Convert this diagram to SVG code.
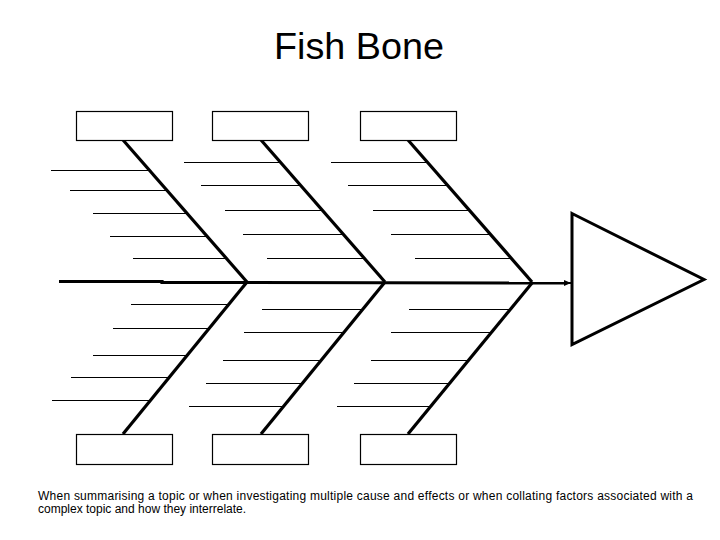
<svg xmlns="http://www.w3.org/2000/svg" width="720" height="540" viewBox="0 0 720 540">
<style>
.box{fill:#fff;stroke:#000;stroke-width:1.2}
.bone{stroke:#000;stroke-width:3.2;fill:none;stroke-linecap:butt}
.rib{stroke:#000;stroke-width:1;fill:none}
.title{font-family:"Liberation Sans",Arial,sans-serif;font-size:36px;fill:#000}
.cap{font-family:"Liberation Sans",Arial,sans-serif;font-size:12px;fill:#000}
</style>
<defs>
<marker id="ah" markerWidth="8" markerHeight="8" refX="7" refY="4" orient="auto" markerUnits="userSpaceOnUse">
<path d="M0,1 L7,4 L0,7 Z" fill="#000"/>
</marker>
</defs>
<rect width="720" height="540" fill="#fff"/>
<text class="title" x="359" y="59" text-anchor="middle" textLength="170" lengthAdjust="spacingAndGlyphs">Fish Bone</text>

<g id="connectors">
<polyline class="bone" points="59,281.5 162,281.5 162,282.5 248,282.5"/>
<line x1="248" y1="282.5" x2="564" y2="283" stroke="#000" stroke-width="3"/>
<line x1="530" y1="283" x2="571" y2="283" stroke="#000" stroke-width="2" marker-end="url(#ah)"/>
<line class="bone" x1="123" y1="140" x2="247" y2="282"/>
<line class="bone" x1="261" y1="140" x2="385" y2="282"/>
<line class="bone" x1="408" y1="140" x2="532" y2="282"/>
<line class="bone" x1="247" y1="282" x2="123" y2="434"/>
<line class="bone" x1="385" y1="282" x2="261" y2="434"/>
<line class="bone" x1="532" y1="283" x2="408" y2="434"/>
<g id="ribs">
<line class="rib" x1="51" y1="170.5" x2="149" y2="170.5"/>
<line class="rib" x1="70" y1="190.5" x2="166" y2="190.5"/>
<line class="rib" x1="93" y1="213.5" x2="186" y2="213.5"/>
<line class="rib" x1="110" y1="236.5" x2="206" y2="236.5"/>
<line class="rib" x1="133" y1="258.5" x2="226" y2="258.5"/>
<line class="rib" x1="184" y1="162.5" x2="280" y2="162.5"/>
<line class="rib" x1="201" y1="185.5" x2="300" y2="185.5"/>
<line class="rib" x1="225" y1="210.5" x2="322" y2="210.5"/>
<line class="rib" x1="243" y1="234.5" x2="343" y2="234.5"/>
<line class="rib" x1="267" y1="258.5" x2="364" y2="258.5"/>
<line class="rib" x1="331" y1="162.5" x2="427" y2="162.5"/>
<line class="rib" x1="348" y1="185.5" x2="447" y2="185.5"/>
<line class="rib" x1="373" y1="210.5" x2="469" y2="210.5"/>
<line class="rib" x1="391" y1="234.5" x2="490" y2="234.5"/>
<line class="rib" x1="415" y1="258.5" x2="511" y2="258.5"/>
<line class="rib" x1="131" y1="304.5" x2="229" y2="304.5"/>
<line class="rib" x1="113" y1="328.5" x2="209" y2="328.5"/>
<line class="rib" x1="93" y1="355.5" x2="187" y2="355.5"/>
<line class="rib" x1="71" y1="377.5" x2="170" y2="377.5"/>
<line class="rib" x1="52" y1="400.5" x2="151" y2="400.5"/>
<line class="rib" x1="262" y1="309.5" x2="363" y2="309.5"/>
<line class="rib" x1="244" y1="332.5" x2="344" y2="332.5"/>
<line class="rib" x1="223" y1="360.5" x2="322" y2="360.5"/>
<line class="rib" x1="206" y1="383.5" x2="303" y2="383.5"/>
<line class="rib" x1="189" y1="406.5" x2="284" y2="406.5"/>
<line class="rib" x1="409" y1="309.5" x2="510" y2="309.5"/>
<line class="rib" x1="391" y1="332.5" x2="491" y2="332.5"/>
<line class="rib" x1="371" y1="360.5" x2="469" y2="360.5"/>
<line class="rib" x1="354" y1="383.5" x2="450" y2="383.5"/>
<line class="rib" x1="337" y1="406.5" x2="432" y2="406.5"/>
</g>
</g>

<g id="box-top-1"><rect class="box" x="76.5" y="111.5" width="96" height="29"/></g>
<g id="box-top-2"><rect class="box" x="212.5" y="111.5" width="96" height="29"/></g>
<g id="box-top-3"><rect class="box" x="360.5" y="111.5" width="96" height="29"/></g>
<g id="box-bottom-1"><rect class="box" x="76.5" y="434.5" width="96" height="30"/></g>
<g id="box-bottom-2"><rect class="box" x="212.5" y="434.5" width="96" height="30"/></g>
<g id="box-bottom-3"><rect class="box" x="360.5" y="434.5" width="96" height="30"/></g>
<g id="head"><polygon points="572,213.5 704,279.5 572,344.5" fill="#fff" stroke="#000" stroke-width="3"/></g>

<text class="cap" x="38" y="500" textLength="655" lengthAdjust="spacing">When summarising a topic or when investigating multiple cause and effects or when collating factors associated with a</text>
<text class="cap" x="38" y="513">complex topic and how they interrelate.</text>
</svg>
